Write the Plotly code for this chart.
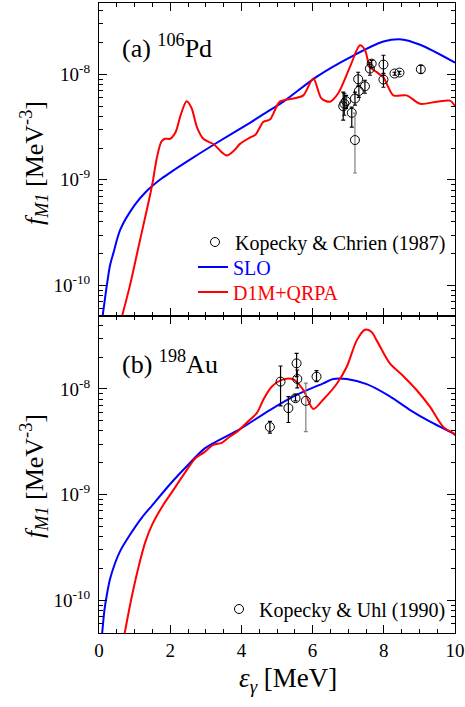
import plotly.graph_objects as go

# ---------------- Panel (a): 106Pd ----------------
slo_a_x = [0.08, 0.22, 0.31, 0.4, 0.6, 1.0, 1.3, 1.71, 2.0, 2.5, 3.23, 4.24, 4.8, 5.18, 6.11,
           7.05, 7.99, 8.5, 9.02, 9.95, 10.0]
slo_a_y = [4.5e-11, 1.0e-10, 1.55e-10, 2.0e-10, 3.39e-10, 5.75e-10, 7.59e-10, 1.0e-9,
           1.17e-9, 1.51e-9, 2.16e-9, 3.47e-9, 4.57e-9, 5.50e-9, 9.44e-9, 1.445e-8, 2.04e-8,
           2.14e-8, 1.905e-8, 1.318e-8, 1.288e-8]

qrpa_a_x = [0.64, 0.87, 1.1, 1.3, 1.45, 1.52, 1.62, 1.75, 1.85, 2.0, 2.15, 2.3, 2.46, 2.6,
            2.75, 2.93, 3.23, 3.45, 3.59, 3.8, 3.96, 4.24, 4.4, 4.62, 4.8, 5.08, 5.46,
            5.74, 6.02, 6.25, 6.49, 6.72, 7.05, 7.33, 7.47, 7.61, 7.8, 7.99, 8.27, 8.64,
            9.02, 9.49, 9.86, 10.0]
qrpa_a_y = [5.0e-11, 1.0e-10, 2.24e-10, 4.47e-10, 7.59e-10, 1.0e-9, 1.585e-9, 2.29e-9,
            2.45e-9, 2.45e-9, 2.82e-9, 4.17e-9, 5.56e-9, 4.79e-9, 3.16e-9, 2.45e-9,
            2.16e-9, 1.82e-9, 1.70e-9, 1.905e-9, 2.19e-9, 2.51e-9, 2.69e-9, 3.55e-9,
            3.72e-9, 5.50e-9, 5.89e-9, 6.31e-9, 9.12e-9, 5.89e-9, 5.50e-9, 6.61e-9,
            1.175e-8, 1.88e-8, 1.70e-8, 1.175e-8, 1.047e-8, 9.33e-9, 6.31e-9, 6.31e-9,
            5.25e-9, 5.50e-9, 5.62e-9, 5.01e-9]

# Kopecky & Chrien (1987)
exp_a_x = [6.86, 6.89, 6.94, 7.10, 7.19, 7.28, 7.30, 7.47, 7.61, 7.66, 7.99, 7.99, 8.30,
           8.44, 9.04]
exp_a_y = [4.98e-9, 5.28e-9, 5.56e-9, 4.31e-9, 5.89e-9, 8.97e-9, 6.95e-9, 7.69e-9,
           1.132e-8, 1.262e-8, 1.236e-8, 8.91e-9, 1.016e-8, 1.038e-8, 1.114e-8]
exp_a_hi = [6.76e-9, 6.61e-9, 6.32e-9, 4.88e-9, 6.76e-9, 1.045e-8, 7.87e-9, 8.77e-9,
            1.30e-8, 1.355e-8, 1.514e-8, 1.021e-8, 1.045e-8, 1.067e-8, 1.216e-8]
exp_a_lo = [3.67e-9, 4.09e-9, 4.76e-9, 3.15e-9, 5.09e-9, 7.69e-9, 6.05e-9, 6.61e-9,
            9.79e-9, 1.164e-8, 9.79e-9, 7.53e-9, 9.79e-9, 1.0e-8, 1.021e-8]
# point with the large (grey) error bar
exp_a2_x = [7.19]
exp_a2_y = [2.38e-9]
exp_a2_hi = [4.28e-9]
exp_a2_lo = [1.16e-9]

# ---------------- Panel (b): 198Au ----------------
slo_b_x = [0.08, 0.15, 0.22, 0.31, 0.45, 0.6, 0.87, 1.2, 1.5, 2.0, 2.5, 2.98, 3.96, 4.8,
           5.55, 6.3, 6.58, 6.96, 7.52, 8.17, 8.74, 9.3, 9.95, 10.0]
slo_b_y = [4.47e-11, 7.94e-11, 1.12e-10, 1.585e-10, 2.24e-10, 2.95e-10, 4.17e-10,
           6.03e-10, 7.94e-10, 1.26e-9, 1.905e-9, 2.75e-9, 4.17e-9, 6.31e-9, 8.77e-9,
           1.13e-8, 1.24e-8, 1.24e-8, 1.11e-8, 8.51e-9, 6.31e-9, 4.90e-9, 3.80e-9, 3.72e-9]

qrpa_b_x = [0.7, 0.9, 1.1, 1.3, 1.5, 1.8, 2.1, 2.4, 2.7, 2.95, 3.21, 3.45, 3.68, 3.9, 4.15,
            4.43, 4.62, 4.85, 5.18, 5.46, 5.74, 6.02, 6.3, 6.68, 6.96, 7.24, 7.47, 7.65,
            7.8, 8.17, 8.55, 8.92, 9.3, 9.67, 9.95, 10.0]
qrpa_b_y = [4.47e-11, 1.0e-10, 2.0e-10, 3.55e-10, 5.25e-10, 7.94e-10, 1.12e-9, 1.585e-9,
            2.19e-9, 2.51e-9, 2.95e-9, 3.09e-9, 3.55e-9, 3.98e-9, 4.79e-9, 5.89e-9,
            7.94e-9, 1.047e-8, 1.23e-8, 1.23e-8, 9.77e-9, 6.46e-9, 7.94e-9, 1.12e-8,
            1.62e-8, 2.88e-8, 3.63e-8, 3.47e-8, 2.88e-8, 1.74e-8, 1.32e-8, 9.77e-9,
            6.76e-9, 4.37e-9, 3.80e-9, 3.63e-9]

# Kopecky & Uhl (1990)
exp_b_x = [4.80, 5.10, 5.32, 5.55, 5.57, 5.52, 6.11]
exp_b_y = [4.36e-9, 1.172e-8, 6.58e-9, 1.746e-8, 1.242e-8, 8.17e-9, 1.306e-8]
exp_b_hi = [4.92e-9, 1.648e-8, 8.45e-9, 2.17e-8, 1.51e-8, 8.77e-9, 1.49e-8]
exp_b_lo = [3.82e-9, 6.92e-9, 4.81e-9, 1.306e-8, 1.021e-8, 7.71e-9, 1.172e-8]
exp_b2_x = [5.81]
exp_b2_y = [7.71e-9]
exp_b2_hi = [1.132e-8]
exp_b2_lo = [3.95e-9]

y_tickvals = [1e-10, 1e-9, 1e-8]
y_ticktext = ["10<sup>-10</sup>", "10<sup>-9</sup>", "10<sup>-8</sup>"]
x_tickvals = [0, 2, 4, 6, 8, 10]

FONT = "Liberation Serif"
BLUE = "#0000FF"
RED = "#FF0000"

W, H = 465, 707
L, R, T, B = 99, 10, 3, 74
PW, PH = W - L - R, H - T - B


def px_x(p):
    return (p - L) / PW


def px_y(p):
    return (H - B - p) / PH


fig = go.Figure()


def add_points(x, y, hi, lo, xa, ya, barcolor, name, showlegend, legend):
    fig.add_trace(go.Scatter(
        x=x, y=y, mode="markers", xaxis=xa, yaxis=ya,
        marker=dict(symbol="circle-open", size=9, color="black", line=dict(width=1)),
        error_y=dict(type="data", symmetric=False,
                     array=[h - v for h, v in zip(hi, y)],
                     arrayminus=[v - l for v, l in zip(y, lo)],
                     color=barcolor, thickness=1.2, width=2),
        name=name, showlegend=showlegend, legend=legend))


def add_line(x, y, xa, ya, color, name, showlegend, legend):
    fig.add_trace(go.Scatter(
        x=x, y=y, mode="lines", xaxis=xa, yaxis=ya,
        line=dict(color=color, width=2, shape="spline", smoothing=0.8),
        name=name, showlegend=showlegend, legend=legend))


# panel a
add_line(slo_a_x, slo_a_y, "x", "y", BLUE, "<span style='color:#0000FF'>SLO</span>", True, "legend3")
add_line(qrpa_a_x, qrpa_a_y, "x", "y", RED, "<span style='color:#FF0000'>D1M+QRPA</span>", True, "legend4")
add_points(exp_a_x, exp_a_y, exp_a_hi, exp_a_lo, "x", "y", "black", "Kopecky &amp; Chrien (1987)", True, "legend")
add_points(exp_a2_x, exp_a2_y, exp_a2_hi, exp_a2_lo, "x", "y", "#808080", "a2", False, "legend")

# panel b
add_line(slo_b_x, slo_b_y, "x2", "y2", BLUE, "SLO", False, "legend2")
add_line(qrpa_b_x, qrpa_b_y, "x2", "y2", RED, "D1M+QRPA", False, "legend2")
add_points(exp_b_x, exp_b_y, exp_b_hi, exp_b_lo, "x2", "y2", "black", "Kopecky &amp; Uhl (1990)", True, "legend2")
add_points(exp_b2_x, exp_b2_y, exp_b2_hi, exp_b2_lo, "x2", "y2", "#808080", "b2", False, "legend2")

split = (H - B - 316) / PH

xcommon = dict(range=[0, 10], tickvals=x_tickvals, ticks="inside", ticklen=8, tickwidth=1,
               tickcolor="black", showline=True, linecolor="black", linewidth=1,
               mirror="ticks", showgrid=False, zeroline=False,
               minor=dict(dtick=0.5, ticks="inside", ticklen=4, tickcolor="black", showgrid=False),
               tickfont=dict(family=FONT, size=19, color="black"))
ycommon = dict(type="log", tickvals=y_tickvals, ticktext=y_ticktext, ticks="inside",
               ticklen=8, tickwidth=1, tickcolor="black", showline=True, linecolor="black",
               linewidth=1, mirror="ticks", showgrid=False, zeroline=False,
               minor=dict(dtick="D1", ticks="inside", ticklen=4, tickcolor="black", showgrid=False),
               ticklabelstandoff=4,
               tickfont=dict(family=FONT, size=19, color="black"))

LEGFONT = dict(family=FONT, size=20, color="black")


def leg(xp, yp, anchor="left"):
    return dict(x=px_x(xp), y=px_y(yp), xanchor=anchor, yanchor="middle",
                bgcolor="rgba(0,0,0,0)", font=LEGFONT)


fig.update_layout(
    width=W, height=H, margin=dict(l=L, r=R, t=T, b=B, autoexpand=False),
    paper_bgcolor="white", plot_bgcolor="white",
    font=dict(family=FONT, color="black"),
    xaxis=dict(xcommon, domain=[0, 1], anchor="y", showticklabels=False),
    xaxis2=dict(xcommon, domain=[0, 1], anchor="y2", matches="x", ticklabelstandoff=0),
    yaxis=dict(ycommon, domain=[split, 1], anchor="x", range=[-10.29, -7.325]),
    yaxis2=dict(ycommon, domain=[0, split], anchor="x2", range=[-10.31, -7.31]),
    legend=leg(451, 242, "right"),
    legend3=leg(193, 267),
    legend4=leg(193, 292),
    legend2=leg(451, 609, "right"),
    showlegend=True,
)

ann = []
ann.append(dict(text="(a) <sup>106</sup>Pd", x=px_x(120), y=px_y(47),
                xref="paper", yref="paper", xanchor="left", yanchor="middle", showarrow=False,
                font=dict(family=FONT, size=26, color="black")))
ann.append(dict(text="(b) <sup>198</sup>Au", x=px_x(120), y=px_y(362),
                xref="paper", yref="paper", xanchor="left", yanchor="middle", showarrow=False,
                font=dict(family=FONT, size=26, color="black")))
ytitle = "<i>f</i><sub><i>M1</i></sub> [MeV<sup>-3</sup>]"
for yc in (163, 476):
    ann.append(dict(text=ytitle, x=px_x(34), y=px_y(yc),
                    xref="paper", yref="paper", xanchor="center", yanchor="middle",
                    textangle=-90, showarrow=False, font=dict(family=FONT, size=26, color="black")))
ann.append(dict(text="<i>ε</i><sub><i>γ</i></sub> [MeV]", x=px_x(288),
                y=px_y(680), xref="paper", yref="paper", xanchor="center",
                yanchor="middle", showarrow=False, font=dict(family=FONT, size=27, color="black")))
fig.update_layout(annotations=ann)

fig.write_html("out.html")
